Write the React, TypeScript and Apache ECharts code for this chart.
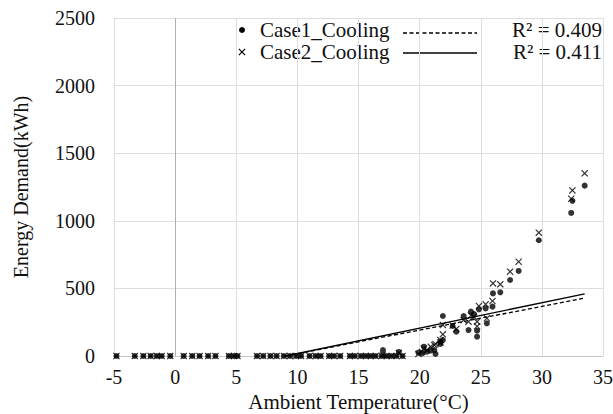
import React, { useEffect, useRef } from "react";
import * as echarts from "echarts";

// Ambient temperature (°C) for each observation
const temps = [
  -4.8, -3.3, -2.6, -2.0, -1.5, -1.1, -0.4, 0.7, 1.4, 2.0, 2.7, 3.3, 4.4, 4.8, 5.1,
  6.7, 7.2, 7.8, 8.3, 8.9, 9.4, 9.9, 10.3, 11.0, 11.5, 11.9, 12.6, 13.0, 13.5, 14.3,
  14.7, 15.2, 15.6, 16.0, 16.4, 16.9, 17.3, 17.7, 18.1, 18.6,
  17.0, 18.3, 19.9, 20.2, 20.35, 20.6, 20.9, 21.2, 21.3, 21.7, 21.7, 21.9, 21.9,
  22.7, 23.0, 23.6, 24.0, 24.2, 24.45, 24.7, 24.7, 24.85, 25.4, 25.5, 25.96, 26.0,
  26.6, 27.4, 28.1, 29.75, 32.4, 32.5, 33.5,
];
// Case1 cooling energy demand (kWh)
const case1 = [
  0, 0, 0, 0, 0, 0, 0, 0, 0, 0, 0, 0, 0, 0, 0,
  0, 0, 0, 0, 0, 0, 0, 0, 0, 0, 0, 0, 0, 0, 0,
  0, 0, 0, 0, 0, 0, 0, 0, 0, 0,
  44, 30, 25, 20, 69, 32, 40, 44, 15, 106, 89, 118, 296,
  222, 180, 296, 192, 328, 310, 143, 187, 345, 352, 242, 365, 463,
  471, 562, 629, 856, 1058, 1148, 1260,
];
// Case2 cooling energy demand (kWh)
const case2 = [
  0, 0, 0, 0, 0, 0, 0, 0, 0, 0, 0, 0, 0, 0, 0,
  0, 0, 0, 0, 0, 0, 0, 0, 0, 0, 0, 0, 0, 0, 0,
  0, 0, 0, 0, 0, 0, 0, 0, 0, 0,
  10, 22, 15, 30, 55, 44, 69, 81, 89, 118, 100, 160, 230,
  225, 200, 265, 254, 300, 290, 254, 220, 370, 382, 279, 407, 537,
  530, 624, 697, 912, 1163, 1225, 1351,
];
// Linear trendline coefficients [slope, intercept] and R²
const trend1 = [17.5, -158];
const trend2 = [18.8, -170];
const r2Labels = ["R² = 0.409", "R² = 0.411"];
const seriesNames = ["Case1_Cooling", "Case2_Cooling"];
const xTicks = { min: -5, max: 35, interval: 5 };
const yTicks = { min: 0, max: 2500, interval: 500 };

const FONT = "Liberation Serif, Times New Roman, serif";
const CROSS =
  "path://M0,1.2L1.2,0L5,3.8L8.8,0L10,1.2L6.2,5L10,8.8L8.8,10L5,6.2L1.2,10L0,8.8L3.8,5Z";

function trendPoints(coef: number[]) {
  const [a, b] = coef;
  const xMax = Math.max(...temps);
  const xMin = Math.max(Math.min(...temps), -b / a);
  return [
    [xMin, a * xMin + b],
    [xMax, a * xMax + b],
  ];
}

export default function App() {
  const ref = useRef<HTMLDivElement>(null);
  useEffect(() => {
    if (!ref.current) return;
    const chart = echarts.init(ref.current, undefined, { renderer: "svg" });
    const pts1 = temps.map((t, i) => [t, case1[i]]);
    const pts2 = temps.map((t, i) => [t, case2[i]]);
    const legendText = (x: number, y: number, text: string, align = "left") => ({
      type: "text",
      x,
      y,
      style: {
        text,
        fontFamily: FONT,
        fontSize: 21,
        fill: "#111",
        textAlign: align,
        textVerticalAlign: "middle",
      },
    });
    chart.setOption({
      animation: false,
      backgroundColor: "#fff",
      grid: {
        left: 114,
        right: 10,
        top: 18,
        bottom: 58,
        containLabel: false,
        outerBoundsMode: "none",
      },
      xAxis: {
        type: "value",
        min: xTicks.min,
        max: xTicks.max,
        interval: xTicks.interval,
        name: "Ambient Temperature(°C)",
        nameLocation: "middle",
        nameGap: 35,
        nameTextStyle: { fontFamily: FONT, fontSize: 21, color: "#111" },
        axisLine: { show: true, lineStyle: { color: "#c8c8c8", width: 1 } },
        axisTick: { show: false },
        axisLabel: { fontFamily: FONT, fontSize: 20, color: "#111", margin: 11 },
        splitLine: { show: true, lineStyle: { color: "#dedede", width: 1 } },
      },
      yAxis: {
        type: "value",
        min: yTicks.min,
        max: yTicks.max,
        interval: yTicks.interval,
        name: "Energy Demand(kWh)",
        nameLocation: "middle",
        nameGap: 83,
        nameTextStyle: { fontFamily: FONT, fontSize: 20, color: "#111" },
        axisLine: { show: false },
        axisTick: { show: false },
        axisLabel: {
          fontFamily: FONT,
          fontSize: 20,
          color: "#111",
          margin: 19,
          formatter: (v: number) => String(v),
        },
        splitLine: { show: true, lineStyle: { color: "#dedede", width: 1 } },
      },
      series: [
        {
          name: seriesNames[0],
          type: "scatter",
          data: pts1,
          symbol: "circle",
          symbolSize: 6,
          itemStyle: { color: "#000" },
          z: 3,
          markLine: {
            silent: true,
            symbol: ["none", "none"],
            label: { show: false },
            lineStyle: { color: "#b0b0b0", type: "solid", width: 1 },
            data: [{ xAxis: 0 }],
            z: 1,
          },
        },
        {
          name: seriesNames[1],
          type: "scatter",
          data: pts2,
          symbol: CROSS,
          symbolSize: 7,
          itemStyle: { color: "#000" },
          z: 3,
        },
        {
          name: "trend1",
          type: "line",
          data: trendPoints(trend1),
          showSymbol: false,
          symbol: "none",
          lineStyle: { color: "#000", width: 1.3, type: [4, 2.5] },
          z: 4,
        },
        {
          name: "trend2",
          type: "line",
          data: trendPoints(trend2),
          showSymbol: false,
          symbol: "none",
          lineStyle: { color: "#000", width: 1.3, type: "solid" },
          z: 4,
        },
      ],
      graphic: [
        { type: "circle", shape: { cx: 242, cy: 30, r: 3 }, style: { fill: "#000" } },
        legendText(260, 30, seriesNames[0]),
        {
          type: "line",
          shape: { x1: 403, y1: 33, x2: 477, y2: 33 },
          style: { stroke: "#000", lineWidth: 1.3, lineDash: [4, 2.5] },
        },
        legendText(602, 30, r2Labels[0], "right"),
        {
          type: "polygon",
          x: 238.5,
          y: 48.5,
          scaleX: 0.7,
          scaleY: 0.7,
          shape: {
            points: [
              [0, 1.2], [1.2, 0], [5, 3.8], [8.8, 0], [10, 1.2], [6.2, 5],
              [10, 8.8], [8.8, 10], [5, 6.2], [1.2, 10], [0, 8.8], [3.8, 5],
            ],
          },
          style: { fill: "#000" },
        },
        legendText(260, 52, seriesNames[1]),
        {
          type: "line",
          shape: { x1: 403, y1: 53, x2: 477, y2: 53 },
          style: { stroke: "#000", lineWidth: 1.3 },
        },
        legendText(602, 52, r2Labels[1], "right"),
      ],
    });
    return () => chart.dispose();
  }, []);
  return (
    <div
      ref={ref}
      style={{ position: "fixed", left: 0, top: 0, width: 613, height: 414, background: "#fff" }}
    />
  );
}
